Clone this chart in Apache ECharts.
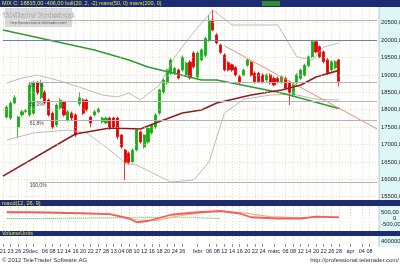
<!DOCTYPE html>
<html><head><meta charset="utf-8">
<script src="https://cdn.jsdelivr.net/npm/echarts@6/dist/echarts.min.js"></script>
<style>html,body{margin:0;padding:0;background:#fff}#c{width:400px;height:266px}</style>
</head><body><div id="c"></div><script>
// ---------- data ----------
const N = 99; // trading-day slots on the x axis
const tickLabels = [[0,'21'],[2,'23'],[4,'26'],[6,'29'],[8,'dec'],[11,'06'],[13,'08'],[15,'12'],[17,'14'],[19,'16'],[21,'20'],[23,'22'],[25,'27'],[27,'28'],[29,'13'],[31,'04'],[33,'08'],[35,'10'],[37,'12'],[39,'16'],[41,'18'],[43,'20'],[45,'24'],[47,'26'],[51,'febr'],[54,'06'],[56,'08'],[58,'12'],[60,'14'],[62,'16'],[64,'20'],[66,'22'],[68,'24'],[71,'márc'],[74,'06'],[76,'08'],[78,'12'],[80,'14'],[82,'20'],[84,'22'],[86,'26'],[88,'28'],[91,'ápr'],[94,'04'],[96,'08']];
const candleStart = 1;
// [open, close, low, high]
const candles = [
[17790,18077,17740,18130],[17760,18190,17700,18250],[18190,18340,18150,18420],[17500,17790,17200,17830],
[17850,17940,17800,17990],[17950,17970,17900,18020],[17850,18710,17800,18800],[17900,18770,17850,18830],
[18770,18480,18420,18830],[18340,18770,18300,18860],[18510,18200,18150,18560],[18280,17850,17800,18320],
[17900,17500,17450,17950],[17560,18135,17500,18180],[18050,18280,18000,18330],[18220,17850,17800,18260],
[17700,17940,17650,17990],[17900,17760,17700,17950],[17850,17270,17220,17900],[18170,18340,18100,18500],
[18280,17900,17850,18330],[18280,17990,17950,18320],[17790,17620,17480,17830],[17850,17940,17800,17990],
[17940,18020,17900,18060],[17650,17760,17600,17800],[17620,17760,17580,17800],[17760,17470,17420,17800],
[17760,17500,17450,17800],[17760,17220,17150,17800],[17270,16930,16880,17300],[16840,16470,15980,16880],
[16750,16470,16420,16800],[16500,16840,16450,16880],[16840,17420,16800,17460],[17360,17070,17020,17400],
[16930,17270,16880,17300],[17070,17470,17020,17500],[17330,17560,17280,17600],[17500,17850,17450,17900],
[17900,18570,17850,18600],[18510,18850,18450,18900],[18770,19140,18720,19180],[19050,19430,19000,19480],
[19050,19190,19000,19230],[19140,18910,18870,19180],[19140,19510,19100,19560],[19000,19340,18950,19380],
[19370,18910,18870,19420],[19630,19230,19180,19680],[18940,19630,18900,19680],[19430,19720,19380,19760],
[19560,20050,19500,20100],[20000,20550,19950,20720],[20580,20290,20250,20870],[20150,19920,19880,20200],
[19860,19650,19600,19900],[19570,19140,19100,19620],[19350,19140,19100,19400],[19290,19140,19090,19330],
[19210,19000,18950,19250],[18950,18770,18720,19000],[18990,19140,18950,19180],[19280,19430,19230,19470],
[19360,18990,18950,19400],[19050,18800,18750,19100],[19050,18800,18760,19090],[19000,18800,18750,19040],
[18850,19000,18800,19040],[19000,18770,18720,19040],[18900,18710,18670,18950],[18900,18800,18750,18950],
[18800,18950,18750,18990],[18900,18620,18570,18950],[18780,18490,18130,18830],[18420,18710,18370,18760],
[18770,19000,18720,19050],[18900,19140,18850,19180],[18990,19280,18950,19320],[19260,19520,19220,19560],
[19520,19950,19480,20000],[19950,19660,19620,19990],[19810,19520,19480,19850],[19660,19380,19330,19700],
[19430,19060,19020,19480],[19140,19380,19100,19420],[19200,19380,19150,19430],[19430,18815,18670,19460]
];
const ma50 = [[0,16090],[19,17300],[28,17474],[36,17445],[40,17617],[47,17905],[52,17991],[56,18192],[65,18422],[73,18566],[78,18710],[82,18940],[88,19129.5]];
const ma200 = [[0,20290],[24,19716],[33,19428],[38,19227],[52,18853],[56,18853],[73,18480],[88,18035.25]];
const bollUpper = [[1,18767],[5,18910],[9,18997],[14,18853],[20,18652],[26,18422],[30,18365],[33,18480],[36,18278],[41,18710],[45,19514],[50,20233],[55,20865],[60,20434],[72,20434],[77,19514],[81,19428],[84,19802],[88,19917]];
const bollLower = [[1,17129],[8,17330],[17,17416],[22,17330],[28,16842],[32,16468],[35,16411],[44,15922],[50,15980],[54,16500],[58,17900],[63,18300],[70,18420],[76,18450],[82,18300],[88,18280]];
const trendLine = [[58,19835],[98,17445]];
const fibLines = [[20580,''],[18800,'38,2%'],[18250,'50,0%'],[17700,'61,8%'],[15920,'100,0%']];
const fibStart = 7;
const levelLine = 20000;
const priceGrid = [15500,16000,16500,17000,17500,18000,18500,19000,19500,20000,20500];
const lastClose = 18815, lastMa50 = 19129.5, lastMa200 = 18035.25;
const macdLine = [[1,500],[10,480],[20,420],[28,350],[33,0],[35,-300],[38,-200],[44,300],[51,500],[57,600],[62,400],[65,100],[72,0],[78,0],[82,150],[88,95.4]];
const macdSignal = [[1,550],[15,500],[28,350],[35,-100],[40,-150],[46,200],[52,450],[57,580],[63,450],[70,150],[78,50],[83,120],[88,130]];
const macdHist = [[1,0],[10,0],[41,100],[50,100],[52,50],[57,0]];
const lastMacd = 95.40;
const volumes = [];
const lastVolume = 96027;

// ---------- chart ----------
const labelMap = {}; tickLabels.forEach(t => labelMap[t[0]] = t[1]);
const slots = Array.from({length: N}, (_, i) => String(i));
const FONT = 'Liberation Sans';
const TAN = '#e4cfa4';
const GL = 2.9, GW = 374.2;
const cdata = candles.map((c, i) => [i + candleStart, c[0], c[1], c[2], c[3]]);
const fmt2 = v => v.toFixed(2).replace('.', ',');

function xAxisCfg(gi, showLabels) {
  return {
    type: 'category', gridIndex: gi, data: slots, boundaryGap: false,
    axisLine: {show: false},
    axisTick: showLabels ? {show: true, inside: true, length: 3, interval: (i) => labelMap[i] !== undefined, lineStyle: {color: '#555', width: 0.6}} : {show: false},
    axisLabel: showLabels ? {show: true, interval: (i) => labelMap[i] !== undefined, hideOverlap: false, formatter: (v, i) => labelMap[i] || '', fontSize: 5.5, fontFamily: FONT, color: '#1a1a3a', margin: 1} : {show: false},
    splitLine: {show: true, interval: (i) => labelMap[i] !== undefined, lineStyle: {color: TAN, type: [1, 2], width: 0.8}}
  };
}
const gridBase = {left: GL, width: GW, outerBoundsMode: 'none', containLabel: false};

const option = {
  animation: false,
  backgroundColor: '#ffffff',
  grid: [
    Object.assign({top: 5.3, height: 208.8}, gridBase),
    Object.assign({top: 206, height: 25}, gridBase),
    Object.assign({top: 236, height: 11}, gridBase)
  ],
  xAxis: [xAxisCfg(0, false), xAxisCfg(1, false), xAxisCfg(2, true)],
  yAxis: [
    {type: 'value', gridIndex: 0, position: 'right', min: 15000, max: 21000, interval: 500,
     axisLine: {show: false}, axisTick: {show: false}, splitLine: {show: false},
     axisLabel: {fontSize: 5.8, fontFamily: FONT, color: '#222', margin: 4, align: 'left',
       formatter: v => (v === 15000 || v === 21000) ? '' : fmt2(v)}},
    {type: 'value', gridIndex: 1, position: 'right', min: -1000, max: 1000, interval: 500,
     axisLine: {show: false}, axisTick: {show: false}, splitLine: {show: false},
     axisLabel: {fontSize: 5.8, fontFamily: FONT, color: '#222', margin: 4, align: 'left',
       formatter: v => v === 0 ? '{z|0}' : (Math.abs(v) === 1000 ? '' : fmt2(v)),
       rich: {z: {padding: [0, 0, 0, 12], fontSize: 5.8, fontFamily: FONT, color: '#222'}}}},
    {type: 'value', gridIndex: 2, position: 'right', min: 0, max: 800000, interval: 400000,
     axisLine: {show: false}, axisTick: {show: false}, splitLine: {show: false},
     axisLabel: {fontSize: 5.8, fontFamily: FONT, color: '#222', margin: 4, align: 'left',
       formatter: v => v === 400000 ? '400000' : ''}}
  ],
  series: [
    {type: 'line', xAxisIndex: 0, yAxisIndex: 0, data: [], silent: true,
     markLine: {symbol: 'none', silent: true, animation: false, label: {show: false},
       data: priceGrid.map(v => ({yAxis: v, lineStyle: {color: TAN, type: [1, 2], width: 0.8}}))}},
    {type: 'line', xAxisIndex: 0, yAxisIndex: 0, data: [], silent: true,
     markLine: {symbol: 'none', silent: true, animation: false,
       data: fibLines.map(f => [{coord: [fibStart, f[0]], lineStyle: {color: '#b4b4b4', width: 1, type: 'solid'},
         label: {show: true, position: 'insideStartBottom', formatter: f[1], fontSize: 5, fontFamily: FONT, color: '#444', distance: [0, 1]}}, {coord: [N - 1, f[0]]}])
         .concat([[{coord: [0, levelLine], lineStyle: {color: '#7080a0', width: 1.2, type: 'solid'}, label: {show: false}}, {coord: [N - 1, levelLine]}]])}},
    {name: 'bollU', type: 'line', xAxisIndex: 0, yAxisIndex: 0, data: bollUpper, symbol: 'none', lineStyle: {color: '#a9a9a9', width: 0.8}},
    {name: 'bollL', type: 'line', xAxisIndex: 0, yAxisIndex: 0, data: bollLower, symbol: 'none', lineStyle: {color: '#a9a9a9', width: 0.8}},
    {name: 'ma200', type: 'line', xAxisIndex: 0, yAxisIndex: 0, data: ma200, symbol: 'none', lineStyle: {color: '#2f9a2f', width: 1.6}},
    {name: 'trend', type: 'line', xAxisIndex: 0, yAxisIndex: 0, data: trendLine, symbol: 'none', lineStyle: {color: '#f28a70', width: 1}},
    {name: 'price', type: 'candlestick', xAxisIndex: 0, yAxisIndex: 0, data: cdata, encode: {x: 0, y: [1, 2, 3, 4]},
     barWidth: 2.6,
     itemStyle: {color: '#12b012', color0: '#e80000', borderColor: '#12b012', borderColor0: '#e80000', borderWidth: 0.8}},
    {name: 'ma50', type: 'line', xAxisIndex: 0, yAxisIndex: 0, data: ma50, symbol: 'none', lineStyle: {color: '#8e1e1e', width: 1.6}, z: 3},
    {type: 'line', xAxisIndex: 0, yAxisIndex: 0, data: [], silent: true, z: 5,
     markLine: {symbol: 'none', silent: true, animation: false, lineStyle: {opacity: 0},
       data: [
         {yAxis: lastMa50, label: {show: true, position: 'end', distance: 2, formatter: fmt2(lastMa50), backgroundColor: '#a82222', color: '#fff', padding: [1, 2, 0, 2], fontSize: 5.8, fontFamily: FONT}},
         {yAxis: lastClose, label: {show: true, position: 'end', distance: 2, formatter: fmt2(lastClose), backgroundColor: '#ffff20', color: '#000', padding: [1, 2, 0, 2], fontSize: 5.8, fontFamily: FONT}},
         {yAxis: lastMa200, label: {show: true, position: 'end', distance: 2, formatter: fmt2(lastMa200), backgroundColor: '#1f8a2a', color: '#fff', padding: [1, 2, 0, 2], fontSize: 5.8, fontFamily: FONT}}
       ]}},
    {name: 'macdHist', type: 'line', xAxisIndex: 1, yAxisIndex: 1, data: macdHist, symbol: 'none', lineStyle: {color: '#49c449', width: 1.2, type: [1, 1]}},
    {name: 'signal', type: 'line', xAxisIndex: 1, yAxisIndex: 1, data: macdSignal, symbol: 'none', lineStyle: {color: '#f5b070', width: 1.2}},
    {name: 'macd', type: 'line', xAxisIndex: 1, yAxisIndex: 1, data: macdLine, symbol: 'none', lineStyle: {color: '#f06060', width: 1.8}},
    {type: 'line', xAxisIndex: 1, yAxisIndex: 1, data: [], silent: true, z: 5,
     markLine: {symbol: 'none', silent: true, animation: false, lineStyle: {opacity: 0},
       data: [{yAxis: lastMacd, label: {show: true, position: 'end', distance: 2, formatter: fmt2(lastMacd), backgroundColor: '#f09a20', color: '#222', padding: [1, 1, 0, 1], fontSize: 5.8, fontFamily: FONT}}]}},
    {name: 'vol', type: 'bar', xAxisIndex: 2, yAxisIndex: 2, data: volumes, barWidth: 1, itemStyle: {color: '#d8d8d8'}},
    {type: 'line', xAxisIndex: 2, yAxisIndex: 2, data: [], silent: true, z: 5,
     markLine: {symbol: 'none', silent: true, animation: false, lineStyle: {opacity: 0},
       data: [{yAxis: lastVolume, label: {show: true, position: 'end', distance: 2, formatter: String(lastVolume), backgroundColor: '#1c2b6e', color: '#fff', padding: [0, 1, 0, 1], fontSize: 5.8, fontFamily: FONT}}]}}
  ],
  graphic: [
    {type: 'rect', z: -10, shape: {x: 379, y: 7, width: 21, height: 193}, style: {fill: '#def6f6'}},
    {type: 'rect', z: -10, shape: {x: 379, y: 206, width: 21, height: 25}, style: {fill: '#def6f6'}},
    {type: 'rect', z: -10, shape: {x: 379, y: 236, width: 21, height: 11}, style: {fill: '#def6f6'}},
    {type: 'line', z: 1, shape: {x1: 379, y1: 7, x2: 379, y2: 247}, style: {stroke: '#9ab', lineWidth: 0.6}},
    {type: 'rect', z: 20, shape: {x: 0, y: 0, width: 400, height: 7}, style: {fill: '#1c2b72'}},
    {type: 'rect', z: 20, shape: {x: 0, y: 200, width: 400, height: 6}, style: {fill: '#1c2b72'}},
    {type: 'rect', z: 20, shape: {x: 0, y: 231, width: 400, height: 5}, style: {fill: '#1c2b72'}},
    {type: 'text', z: 21, style: {x: 2, y: 3.6, text: 'MIX C: 18815,00 -406,00 boll(20, 2, -2) mavs(50, 0) mavs(200, 0)', fill: '#e8e830', font: '5.5px "Liberation Sans"', verticalAlign: 'middle'}},
    {type: 'rect', z: 21, shape: {x: 262, y: 1, width: 18, height: 5}, style: {fill: '#2f8f2f'}},
    {type: 'text', z: 21, style: {x: 2, y: 203.2, text: 'macd(12, 26, 9)', fill: '#e8e830', font: '5.5px "Liberation Sans"', verticalAlign: 'middle'}},
    {type: 'text', z: 21, style: {x: 2, y: 233.6, text: 'VolumeUnits', fill: '#e8e830', font: '5.5px "Liberation Sans"', verticalAlign: 'middle'}},
    {type: 'rect', z: 15, shape: {x: 5, y: 8, width: 67, height: 19}, style: {fill: 'rgba(165,165,165,0.42)'}},
    {type: 'text', z: 16, style: {x: 38.5, y: 15.5, text: 'TeleTrader Professional', fill: '#e2e2e2', stroke: '#7c7c7c', lineWidth: 0.45, font: 'bold 7px "Liberation Serif"', align: 'center', verticalAlign: 'middle'}},
    {type: 'text', z: 16, style: {x: 38.5, y: 23, text: 'http://professional.teletrader.com/', fill: '#666', font: '3.8px "Liberation Sans"', align: 'center', verticalAlign: 'middle'}},
    {type: 'text', z: 16, style: {x: 2, y: 260, text: '© 2012 TeleTrader Software AG', fill: '#333', font: '6px "Liberation Sans"', verticalAlign: 'middle'}},
    {type: 'text', z: 16, style: {x: 399, y: 260, text: 'http://professional.teletrader.com/', fill: '#333', font: '6px "Liberation Sans"', align: 'right', verticalAlign: 'middle'}}
  ]
};
const chart = echarts.init(document.getElementById('c'), null, {renderer: 'canvas', width: 400, height: 266});
chart.setOption(option);
</script></body></html>
